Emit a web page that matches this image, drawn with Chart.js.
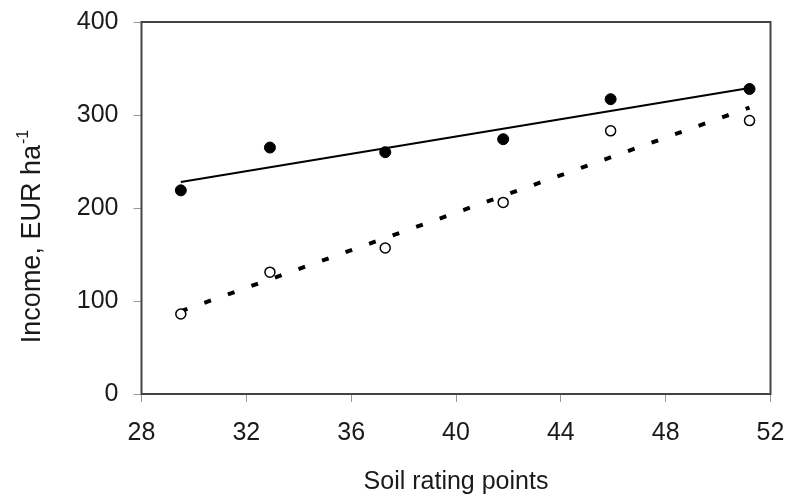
<!DOCTYPE html>
<html>
<head>
<meta charset="utf-8">
<script src="https://cdn.jsdelivr.net/npm/chart.js@4"></script>
<style>
  html, body { margin: 0; padding: 0; background: #fff; }
  #wrap { width: 787px; height: 497px; }
</style>
</head>
<body>
<div id="wrap"><canvas id="myChart" width="787" height="497"></canvas></div>
<script>
// soil rating points (x)
const soilPoints = [29.5, 32.9, 37.3, 41.8, 45.9, 51.2];
// filled circles
const incomeFilled = [219, 265, 260, 274, 317, 328];
// open circles
const incomeOpen = [86, 131, 157, 206, 283, 294];
// trend line ends
const trendX = [29.5, 51.2];
const trendFilled = [228, 329];
const trendOpen = [89, 308];

const xTicks = [28, 32, 36, 40, 44, 48, 52];
const yTicks = [0, 100, 200, 300, 400];

const FONT = "'Liberation Sans', Arial, sans-serif";

let pairs = (xs, ys) => xs.map((x, i) => ({ x: x, y: ys[i] }));

/* box round the plot area + y title with superscript */
const frame = {
  id: "frame",
  beforeDatasetsDraw(chart) {
    const a = chart.chartArea;
    const ctx = chart.ctx;
    ctx.save();
    ctx.strokeStyle = "#444";
    ctx.lineWidth = 2;
    ctx.strokeRect(a.left, a.top, a.right - a.left, a.bottom - a.top);
    ctx.restore();
  },
  afterDraw(chart) {
    const ctx = chart.ctx;
    ctx.save();
    ctx.translate(40, 237);
    ctx.rotate(-Math.PI / 2);
    ctx.fillStyle = "#1a1a1a";
    ctx.textBaseline = "alphabetic";
    ctx.textAlign = "left";
    const main = "Income, EUR ha";
    const sup = "-1";
    ctx.font = "27px " + FONT;
    const w1 = ctx.measureText(main).width;
    ctx.font = "16px " + FONT;
    const w2 = ctx.measureText(sup).width;
    const start = -(w1 + w2) / 2;
    ctx.font = "27px " + FONT;
    ctx.fillText(main, start, 0);
    ctx.font = "16px " + FONT;
    ctx.fillText(sup, start + w1 + 1, -12);
    ctx.restore();
  },
};

const ctx = document.getElementById("myChart");
const chart = new Chart(ctx, {
  type: "scatter",
  data: {
    datasets: [
      {
        label: "filled",
        data: pairs(soilPoints, incomeFilled),
        pointStyle: "circle",
        pointRadius: 5.5,
        backgroundColor: "#000",
        borderColor: "#000",
        borderWidth: 1,
        order: 1,
      },
      {
        label: "open",
        data: pairs(soilPoints, incomeOpen),
        pointStyle: "circle",
        pointRadius: 5,
        backgroundColor: "#fff",
        borderColor: "#000",
        borderWidth: 1.5,
        order: 1,
      },
      {
        label: "trend filled",
        data: pairs(trendX, trendFilled),
        showLine: true,
        pointRadius: 0,
        borderColor: "#000",
        borderWidth: 2,
        order: 2,
      },
      {
        label: "trend open",
        data: pairs(trendX, trendOpen),
        showLine: true,
        pointRadius: 0,
        borderColor: "#000",
        borderWidth: 4,
        borderDash: [7, 18],
        order: 2,
      },
    ],
  },
  options: {
    responsive: false,
    animation: false,
    events: [],
    layout: { padding: { top: 22, right: 16.5, bottom: 0, left: 0 } },
    plugins: { legend: { display: false }, tooltip: { enabled: false } },
    scales: {
      x: {
        type: "linear",
        min: 28,
        max: 52,
        afterBuildTicks: (s) => { s.ticks = xTicks.map((v) => ({ value: v })); },
        afterFit: (s) => {
          s.height = 103;
          s.paddingLeft = 0;
          s.paddingRight = 0;
        },
        grid: { drawOnChartArea: false, drawTicks: true, tickLength: 8, color: "#999", lineWidth: 1 },
        border: { display: false },
        ticks: { color: "#1a1a1a", font: { family: FONT, size: 25 }, padding: 16, maxRotation: 0 },
        title: { display: true, text: "Soil rating points", color: "#1a1a1a", font: { family: FONT, size: 25 }, padding: { top: 0, bottom: 0 } },
      },
      y: {
        type: "linear",
        min: 0,
        max: 400,
        afterBuildTicks: (s) => { s.ticks = yTicks.map((v) => ({ value: v })); },
        afterFit: (s) => {
          s.width = 141.5;
          s.paddingTop = 0;
          s.paddingBottom = 0;
        },
        grid: { drawOnChartArea: false, drawTicks: true, tickLength: 8, color: "#999", lineWidth: 1 },
        border: { display: false },
        ticks: { color: "#1a1a1a", font: { family: FONT, size: 25 }, padding: 15 },
      },
    },
  },
  plugins: [frame],
});
</script>
</body>
</html>
